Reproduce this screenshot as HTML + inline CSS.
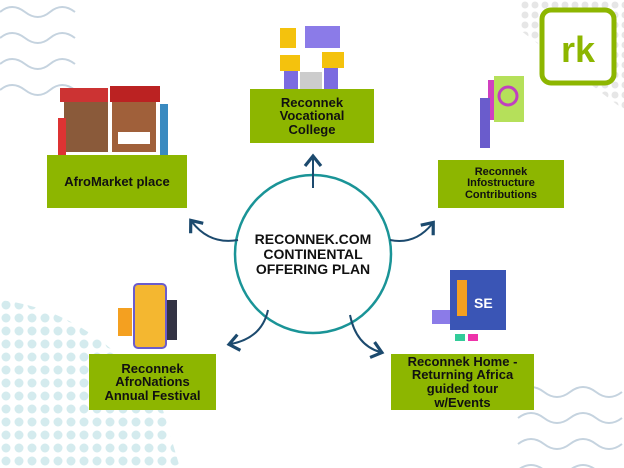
<!DOCTYPE html>
<html><head><style>
body{margin:0;width:624px;height:468px;background:#fff;position:relative;overflow:hidden;font-family:"Liberation Sans",sans-serif}
.b{position:absolute;background:#8db600;color:#111;font-weight:bold;display:flex;align-items:center;justify-content:center;text-align:center;line-height:1.05}
</style></head><body>
<svg width="624" height="468" style="position:absolute;left:0;top:0">
<defs>
<pattern id="d" width="13" height="13" patternUnits="userSpaceOnUse"><circle cx="6" cy="6" r="4.5" fill="#cfe9ec"/></pattern>
<pattern id="d2" width="10" height="10" patternUnits="userSpaceOnUse"><circle cx="5" cy="5" r="3.5" fill="#e6e6e6"/></pattern>
<radialGradient id="g" cx="0" cy="1" r="1"><stop offset="0.3" stop-color="#fff" stop-opacity="0"/><stop offset="1" stop-color="#fff"/></radialGradient>
<marker id="a" markerWidth="10" markerHeight="10" refX="5" refY="5" orient="auto"><path d="M1,1 L6,5 L1,9" fill="none" stroke="#1c4a6e" stroke-width="1.6"/></marker>
</defs>
<path d="M0,300 Q90,310 160,400 L180,468 L0,468Z" fill="url(#d)" opacity="0.9"/>
<path d="M520,0 L624,0 L624,110 L520,30Z" fill="url(#d2)"/>
<g fill="none" stroke="#c5d3df" stroke-width="2">
<path d="M0,12 q12,-10 25,0 t25,0 t25,0"/><path d="M0,38 q12,-10 25,0 t25,0 t25,0"/><path d="M0,64 q12,-10 25,0 t25,0 t25,0"/><path d="M0,90 q12,-10 25,0 t25,0 t25,0"/>
<path d="M518,392 q13,-10 26,0 t26,0 t26,0 t26,0"/><path d="M518,418 q13,-10 26,0 t26,0 t26,0 t26,0"/><path d="M518,444 q13,-10 26,0 t26,0 t26,0 t26,0"/><path d="M518,470 q13,-10 26,0 t26,0 t26,0 t26,0"/>
</g>
<rect x="542" y="10" width="72" height="73" rx="9" fill="#fff" stroke="#8db600" stroke-width="5"/>
<text x="578" y="62" font-size="36" font-weight="bold" fill="#8db600" text-anchor="middle" font-family="Liberation Sans">rk</text>
<ellipse cx="313" cy="254" rx="78" ry="79" fill="none" stroke="#1a9497" stroke-width="2.5"/>
<g fill="none" stroke="#1c4a6e" stroke-width="2" marker-end="url(#a)">
<path d="M313,188 L313,158"/>
<path d="M238,240 Q210,245 192,222"/>
<path d="M390,240 Q415,245 432,224"/>
<path d="M268,310 Q262,338 231,344"/>
<path d="M350,315 Q356,345 380,352"/>
</g>
<!-- illustrations approx -->
<g>
<rect x="60" y="88" width="48" height="14" fill="#c33"/><rect x="110" y="86" width="50" height="16" fill="#b22"/>
<rect x="64" y="102" width="44" height="50" fill="#8a5a3a"/><rect x="112" y="102" width="44" height="50" fill="#a0603a"/>
<rect x="118" y="132" width="32" height="12" fill="#fff"/>
<rect x="58" y="118" width="8" height="38" fill="#d33"/><rect x="160" y="104" width="8" height="52" fill="#3a8ac0"/>
<rect x="280" y="28" width="16" height="20" fill="#f4c20d"/><rect x="305" y="26" width="35" height="22" fill="#8b7be8"/>
<rect x="284" y="55" width="14" height="38" fill="#7b6be0"/><rect x="324" y="58" width="14" height="35" fill="#7b6be0"/>
<rect x="280" y="55" width="20" height="16" fill="#f4c20d"/><rect x="322" y="52" width="22" height="16" fill="#f4c20d"/>
<rect x="300" y="72" width="22" height="20" fill="#ccc"/>
<rect x="494" y="76" width="30" height="46" fill="#b5e05a"/><rect x="488" y="80" width="6" height="40" fill="#d040c0"/>
<circle cx="508" cy="96" r="9" fill="none" stroke="#c040c0" stroke-width="3"/><rect x="480" y="98" width="10" height="50" fill="#6a5ccc"/>
<rect x="134" y="284" width="32" height="64" rx="4" fill="#f4b730" stroke="#6a5ccc" stroke-width="2"/>
<rect x="118" y="308" width="14" height="28" fill="#f4a020"/><rect x="167" y="300" width="10" height="40" fill="#334"/>
<rect x="450" y="270" width="56" height="60" fill="#3a55b5"/><rect x="457" y="280" width="10" height="36" fill="#f4a020"/>
<text x="474" y="308" font-size="14" font-weight="bold" fill="#fff">SE</text>
<rect x="432" y="310" width="18" height="14" fill="#8b7be8"/><rect x="455" y="334" width="10" height="7" fill="#3c9"/><rect x="468" y="334" width="10" height="7" fill="#e3a"/>
</g>
<text font-family="Liberation Sans" font-weight="bold" font-size="14" fill="#111" text-anchor="middle">
<tspan x="313" y="244">RECONNEK.COM</tspan><tspan x="313" y="259">CONTINENTAL</tspan><tspan x="313" y="274">OFFERING PLAN</tspan></text>
</svg>
<div class="b" style="left:47px;top:155px;width:140px;height:53px;font-size:13px">AfroMarket place</div>
<div class="b" style="left:250px;top:89px;width:124px;height:54px;font-size:13px">Reconnek<br>Vocational<br>College</div>
<div class="b" style="left:438px;top:160px;width:126px;height:48px;font-size:11px">Reconnek<br>Infostructure<br>Contributions</div>
<div class="b" style="left:89px;top:354px;width:127px;height:56px;font-size:13px">Reconnek<br>AfroNations<br>Annual Festival</div>
<div class="b" style="left:391px;top:354px;width:143px;height:56px;font-size:13px">Reconnek Home -<br>Returning Africa<br>guided tour<br>w/Events</div>
</body></html>
